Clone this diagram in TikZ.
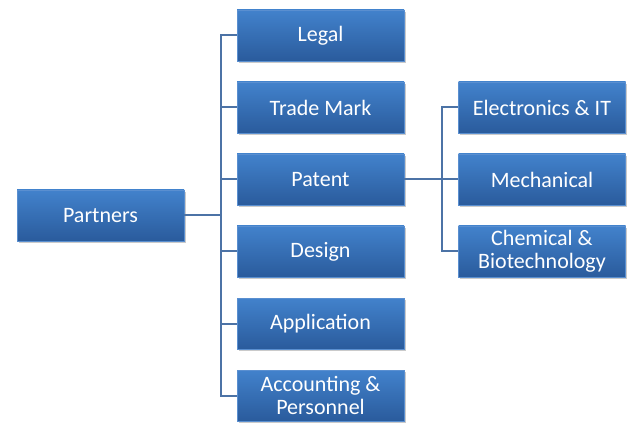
\documentclass[tikz,border=0pt]{standalone}
\usepackage{fontspec}
\setmainfont{Carlito}
\usetikzlibrary{shadows}
\definecolor{boxtop}{HTML}{4282CC}
\definecolor{boxbot}{HTML}{2A5B9C}
\definecolor{boxedge}{HTML}{5A8FD0}
\definecolor{linec}{HTML}{4C73A6}
\tikzset{
  orgbox/.style={rectangle, minimum width=167pt, minimum height=51pt, inner sep=0pt,
    top color=boxtop, bottom color=boxbot, draw=boxedge, line width=0.8pt,
    drop shadow={shadow xshift=1.5pt, shadow yshift=-2pt, opacity=0.35, fill=black!60},
    text=white, align=center, font=\fontsize{22}{23}\selectfont},
  link/.style={draw=linec, line width=2pt}
}
\begin{document}
\begin{tikzpicture}[x=1pt,y=-1pt]
\useasboundingbox (0,0) rectangle (630,441);
\node[orgbox] (partners) at (100.5,215.5) {Partners};
\node[orgbox] (legal) at (320.5,35.5) {Legal};
\node[orgbox] (trade) at (320.5,107.5) {Trade Mark};
\node[orgbox] (patent) at (320.5,179.5) {Patent};
\node[orgbox] (design) at (320.5,251.5) {Design};
\node[orgbox] (appl) at (320.5,323.5) {Application};
\node[orgbox] (acc) at (320.5,395.5) {Accounting \&\\Personnel};
\node[orgbox] (elec) at (542,107.5) {Electronics \& IT};
\node[orgbox] (mech) at (542,179.5) {Mechanical};
\node[orgbox] (chem) at (542,251.5) {Chemical \&\\Biotechnology};
\coordinate (j1) at (221,215.5);
\coordinate (j2) at (442,179.5);
\begin{scope}[on background layer/.style={}]
\draw[link] (partners.east) -- (j1);
\foreach \c in {legal,trade,patent,design,appl,acc}{
  \draw[link] (j1) |- (\c.west);
}
\draw[link] (patent.east) -- (j2);
\foreach \c in {elec,mech,chem}{
  \draw[link] (j2) |- (\c.west);
}
\end{scope}
\end{tikzpicture}
\end{document}
